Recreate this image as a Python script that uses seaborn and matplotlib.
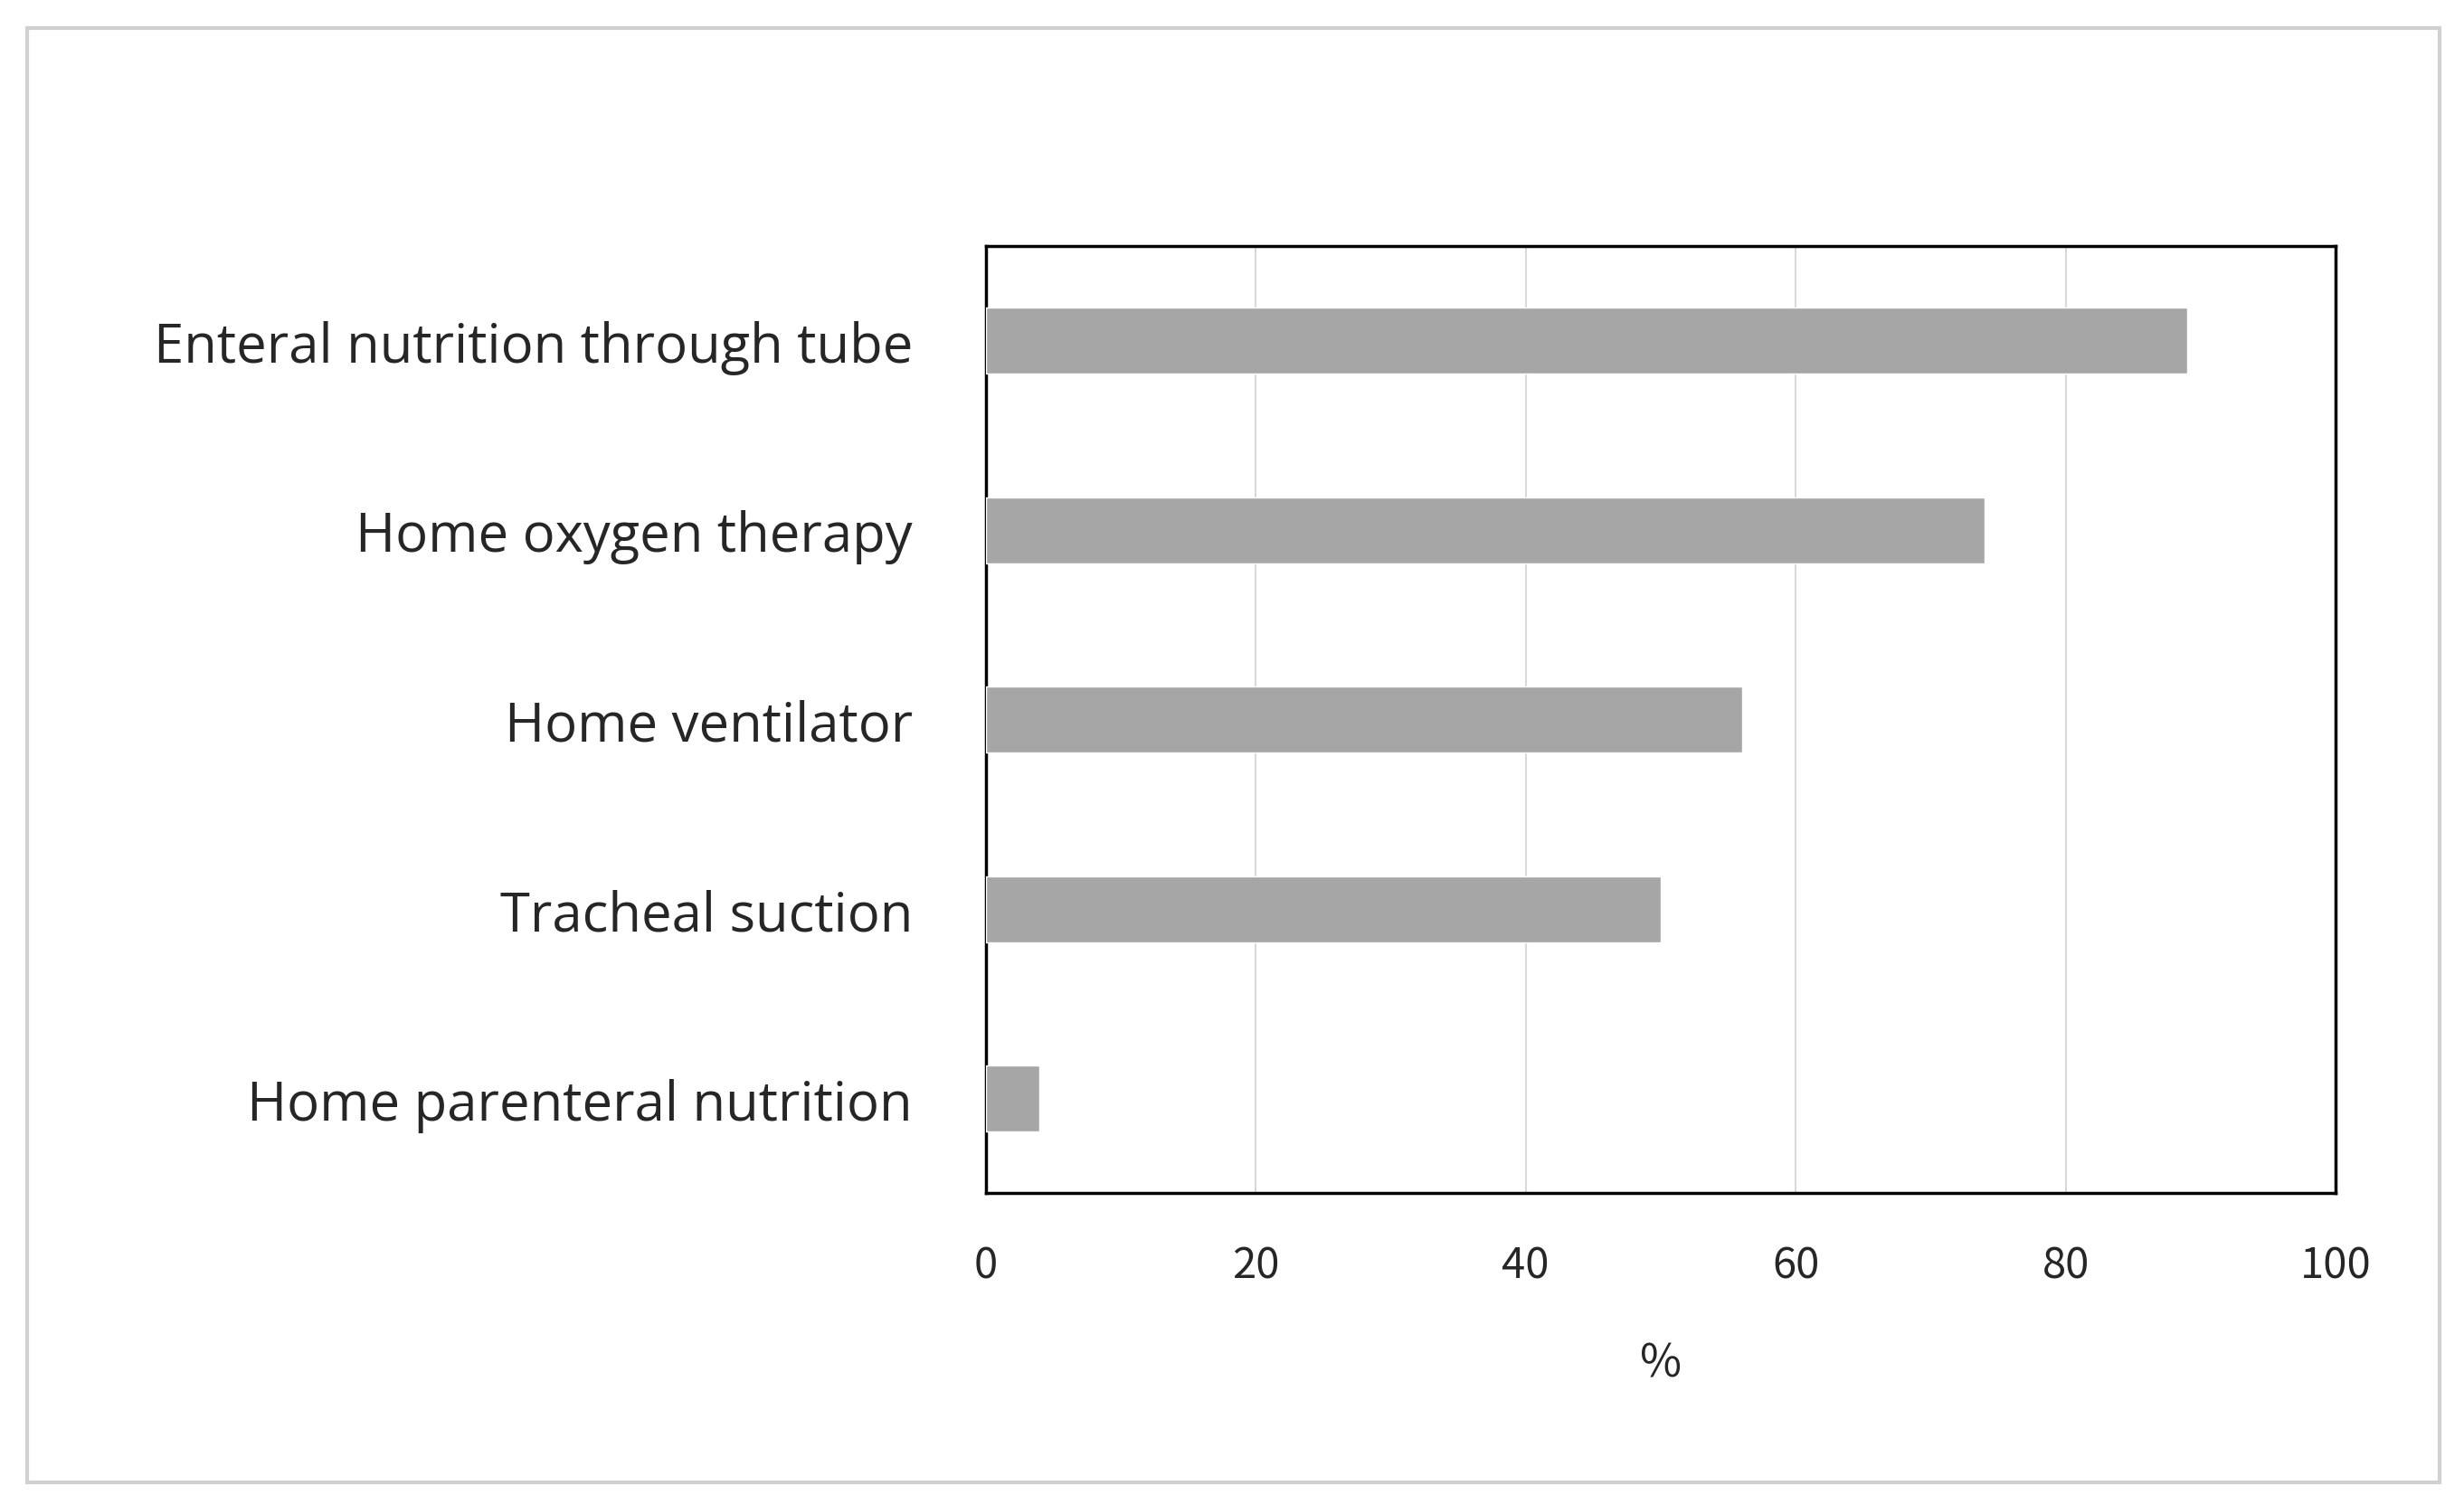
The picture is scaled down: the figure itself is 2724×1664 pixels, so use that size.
import matplotlib
matplotlib.use("Agg")
import matplotlib.pyplot as plt
import matplotlib.patches as mpatches
import seaborn as sns
import pandas as pd

categories = ["Enteral nutrition through tube", "Home oxygen therapy", "Home ventilator",
              "Tracheal suction", "Home parenteral nutrition"]
values = [89, 74, 56, 50, 4]

df = pd.DataFrame({"category": categories, "value": values})

sns.set_style("white")
plt.rcParams['font.family'] = ['Noto Sans CJK KR', 'DejaVu Sans']

fig = plt.figure(figsize=(27.24, 16.65), dpi=100)
ax = fig.add_axes([0.400, 0.207, 0.548, 0.629])

sns.barplot(data=df, x="value", y="category", color="#a6a6a6", width=0.35,
            saturation=1, ax=ax, zorder=3)

ax.set_xlim(0, 100)
ax.set_xticks(range(0, 101, 20))
ax.xaxis.grid(True, color="#d9d9d9", linewidth=1.5, zorder=0)
ax.set_axisbelow(True)
ax.set_xlabel("%", fontsize=36, labelpad=42)
ax.set_ylabel("")
ax.tick_params(axis="x", labelsize=34, pad=40, length=0)
ax.tick_params(axis="y", labelsize=43, pad=58, length=0)
for lab in ax.get_yticklabels():
    lab.set_family(["Open Sans", "DejaVu Sans"])
for s in ax.spines.values():
    s.set_visible(True)
    s.set_color("black")
    s.set_linewidth(2.5)

fig.patches.append(mpatches.Rectangle((0.011, 0.015), 0.979, 0.966, transform=fig.transFigure,
                                      fill=False, edgecolor="#d0d0d0", linewidth=3))

fig.savefig("out.png", dpi=100, facecolor="white")
